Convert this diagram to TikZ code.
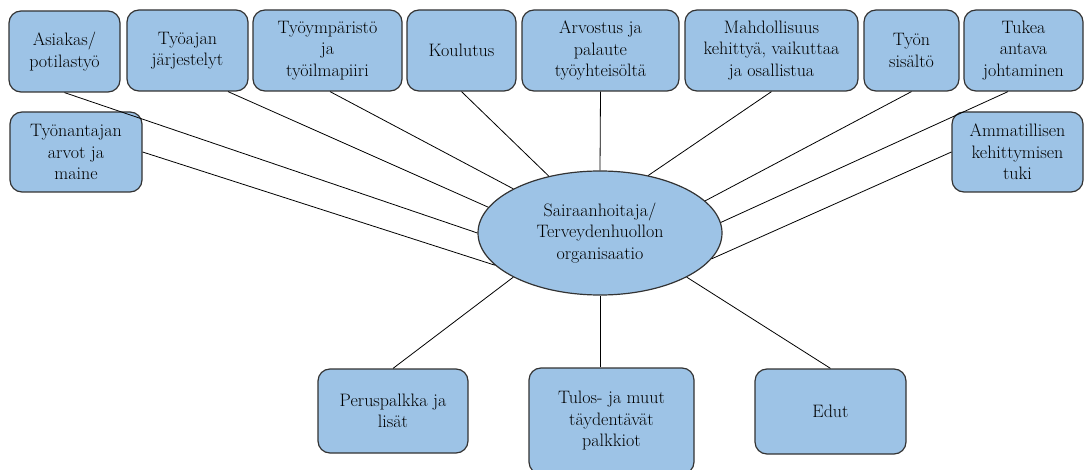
\documentclass[tikz,border=0pt]{standalone}
\usetikzlibrary{shapes.geometric}
\definecolor{boxblue}{HTML}{9DC3E6}
\begin{document}
\begin{tikzpicture}[-,x=1pt,y=1pt,
    box/.style={draw=black!80,line width=1.2pt,fill=boxblue,rounded corners=12pt,align=center,inner sep=2pt,font=\fontsize{18}{21.5}\selectfont},
    hub/.style={ellipse,draw=black!80,line width=1.2pt,fill=boxblue,align=center,inner sep=0pt,font=\fontsize{18}{21.5}\selectfont},
    link/.style={draw=black,line width=0.8pt}]
        \useasboundingbox (0,0) rectangle (1084,469);
        \clip (0,0) rectangle (1084,469);
        \node [hub, minimum width=244, minimum height=124] (org) at (600,236) {Sairaanhoitaja/\\Terveydenhuollon\\organisaatio};
        % top row
        \node [box, minimum width=111, minimum height=81] (asiakas) at (64.5,417.5) {Asiakas/\\potilastyö};
        \node [box, minimum width=121, minimum height=81] (tyoajan) at (187.5,418.5) {Työajan\\järjestelyt};
        \node [box, minimum width=149, minimum height=81] (ymparisto) at (327.5,418.5) {Työympäristö\\ja\\työilmapiiri};
        \node [box, minimum width=109, minimum height=81] (koulutus) at (461.5,418.5) {Koulutus};
        \node [box, minimum width=157, minimum height=81] (arvostus) at (600.5,418.5) {Arvostus ja\\palaute\\työyhteisöltä};
        \node [box, minimum width=173, minimum height=81] (mahdollisuus) at (771.5,418.5) {Mahdollisuus\\kehittyä, vaikuttaa\\ja osallistua};
        \node [box, minimum width=95, minimum height=81] (sisalto) at (911.5,418.5) {Työn\\sisältö};
        \node [box, minimum width=119, minimum height=81] (johtaminen) at (1023.5,418.5) {Tukea\\antava\\johtaminen};
        % second row
        \node [box, minimum width=132, minimum height=80] (arvot) at (76,317) {Työnantajan\\arvot ja\\maine};
        \node [box, minimum width=131, minimum height=80] (tuki) at (1017.5,317) {Ammatillisen\\kehittymisen\\tuki};
        % bottom row
        \node [box, minimum width=150, minimum height=84] (peruspalkka) at (393,58) {Peruspalkka ja\\lisät};
        \node [box, minimum width=165, minimum height=106] (palkkiot) at (611.5,48) {Tulos- ja muut\\täydentävät\\palkkiot};
        \node [box, minimum width=151, minimum height=85] (edut) at (830.5,57.5) {Edut};
        \path[link]
        (asiakas.south) edge (org.180)
        ([xshift=40.5pt]tyoajan.south) edge (org.167)
        ([xshift=2.5pt]ymparisto.south) edge (org.153)
        (koulutus.south) edge (org.132)
        (arvostus.south) edge (org.90)
        (mahdollisuus.south) edge (org.50)
        (sisalto.south) edge (org.17)
        ([xshift=-15.5pt]johtaminen.south) edge (org.5.6)
        (tuki.west) edge (org.-13)
        (arvot.east) edge (org.197)
        (peruspalkka.north) edge (org.207)
        ([xshift=-11.5pt]palkkiot.north) edge (org.270)
        (edut.north) edge (org.-27);
    \end{tikzpicture}
\end{document}
